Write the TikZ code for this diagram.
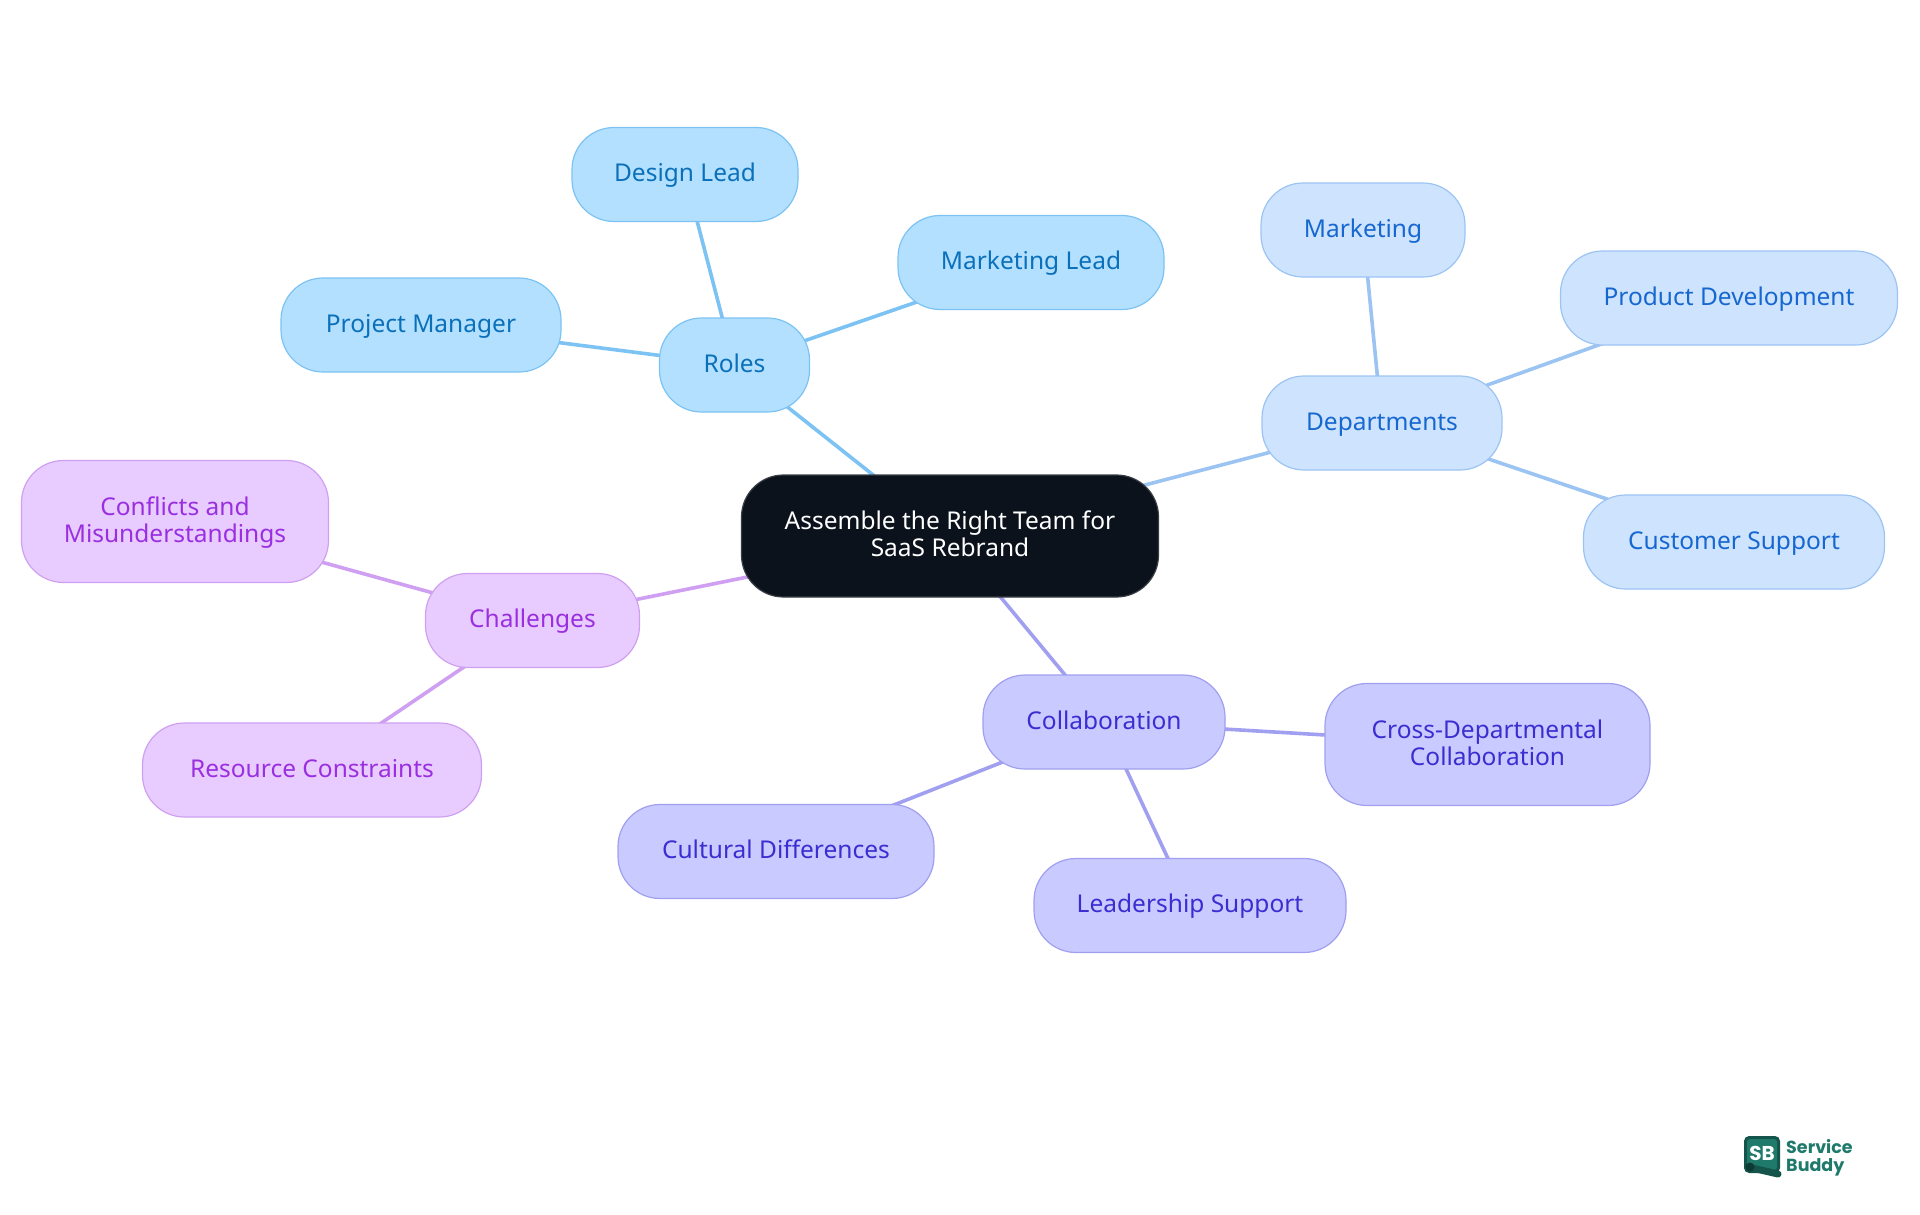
\documentclass[tikz,border=0pt]{standalone}
\usepackage{fontspec}
\usetikzlibrary{backgrounds}
\setmainfont{Noto Sans}
\newfontfamily\logofont{Poppins}
\newcommand{\st}{\rule[-6.5pt]{0pt}{27pt}}
\definecolor{skyF}{HTML}{B3E0FF}\definecolor{skyD}{HTML}{7CC3F3}\definecolor{skyT}{HTML}{0B70BA}
\definecolor{bluF}{HTML}{CEE3FD}\definecolor{bluD}{HTML}{9CC4F3}\definecolor{bluT}{HTML}{1668D0}
\definecolor{indF}{HTML}{C9CAFF}\definecolor{indD}{HTML}{A09FF0}\definecolor{indT}{HTML}{3A2ED0}
\definecolor{purF}{HTML}{E8CBFF}\definecolor{purD}{HTML}{CFA0F2}\definecolor{purT}{HTML}{9A2FE0}
\definecolor{rootF}{HTML}{0B121B}\definecolor{rootD}{HTML}{3A3F46}
\definecolor{logoA}{HTML}{1F7A6B}\definecolor{logoB}{HTML}{14544A}\definecolor{logoC}{HTML}{0F3A33}
\tikzset{
 x=1pt,y=-1pt,
 mm/.style={rectangle,rounded corners=42pt,line width=1.2pt,align=center,inner sep=0pt,
   font=\fontsize{24.5}{27}\selectfont},
 skyN/.style={mm,fill=skyF,draw=skyD,text=skyT},
 bluN/.style={mm,fill=bluF,draw=bluD,text=bluT},
 indN/.style={mm,fill=indF,draw=indD,text=indT},
 purN/.style={mm,fill=purF,draw=purD,text=purT},
 rootN/.style={mm,fill=rootF,draw=rootD,text=white},
 skyL/.style={draw=skyD,line width=3.6pt},
 bluL/.style={draw=bluD,line width=3.6pt},
 indL/.style={draw=indD,line width=3.6pt},
 purL/.style={draw=purD,line width=3.6pt},
 logoT/.style={inner sep=0pt,anchor=base west,text=logoA,font=\logofont\bfseries\fontsize{17.5}{20}\selectfont},
}
\begin{document}
\begin{tikzpicture}
\useasboundingbox (0,0) rectangle (1920,1215);
\node[rootN,minimum width=417pt,minimum height=122pt] (root) at (950,536) {\st Assemble the Right Team for\\\st SaaS Rebrand};
\node[skyN,minimum width=150pt,minimum height=94pt] (roles) at (734.5,365) {\st Roles};
\node[skyN,minimum width=226pt,minimum height=94pt] (design) at (685,174.5) {\st Design Lead};
\node[skyN,minimum width=266pt,minimum height=94pt] (mlead) at (1031,262.5) {\st Marketing Lead};
\node[skyN,minimum width=280pt,minimum height=94pt] (pm) at (421,325) {\st Project Manager};
\node[bluN,minimum width=240pt,minimum height=94pt] (dept) at (1382,423) {\st Departments};
\node[bluN,minimum width=204pt,minimum height=94pt] (mark) at (1363,230) {\st Marketing};
\node[bluN,minimum width=337pt,minimum height=94pt] (prod) at (1729,298) {\st Product Development};
\node[bluN,minimum width=301pt,minimum height=94pt] (cust) at (1734,542) {\st Customer Support};
\node[indN,minimum width=242pt,minimum height=94pt] (coll) at (1104,722) {\st Collaboration};
\node[indN,minimum width=325pt,minimum height=122pt] (cross) at (1487.5,744.5) {\st Cross-Departmental\\\st Collaboration};
\node[indN,minimum width=316pt,minimum height=94pt] (cult) at (776,851.5) {\st Cultural Differences};
\node[indN,minimum width=312pt,minimum height=94pt] (lead) at (1190,905.5) {\st Leadership Support};
\node[purN,minimum width=214pt,minimum height=94pt] (chal) at (532.5,620.5) {\st Challenges};
\node[purN,minimum width=307pt,minimum height=122pt] (conf) at (175,521.5) {\st Conflicts and\\\st Misunderstandings};
\node[purN,minimum width=339pt,minimum height=94pt] (res) at (312,770) {\st Resource Constraints};
\begin{pgfonlayer}{background}
\draw[skyL] (root.center) -- (roles.center);
\draw[skyL] (roles.center) -- (design.center);
\draw[skyL] (roles.center) -- (mlead.center);
\draw[skyL] (roles.center) -- (pm.center);
\draw[bluL] (root.center) -- (dept.center);
\draw[bluL] (dept.center) -- (mark.center);
\draw[bluL] (dept.center) -- (prod.center);
\draw[bluL] (dept.center) -- (cust.center);
\draw[indL] (root.center) -- (coll.center);
\draw[indL] (coll.center) -- (cross.center);
\draw[indL] (coll.center) -- (cult.center);
\draw[indL] (coll.center) -- (lead.center);
\draw[purL] (root.center) -- (chal.center);
\draw[purL] (chal.center) -- (conf.center);
\draw[purL] (chal.center) -- (res.center);
\end{pgfonlayer}
% logo
\fill[logoB,rounded corners=5pt] (1744,1136) rectangle (1780,1173);
\fill[logoA,rounded corners=3pt] (1747,1139) rectangle (1777,1170);
\draw[logoB,line width=7pt,line cap=round] (1752,1168) -- (1778,1174);
\fill[logoC] (1750,1167) circle (4.5pt);
\node[inner sep=0pt,text=white,font=\logofont\bfseries\fontsize{20}{22}\selectfont] (sb) at (1762,1153) {SB};
\node[logoT] (svc) at (1786,1153) {Service};
\node[logoT] (bud) at (1786,1171) {Buddy};
\end{tikzpicture}
\end{document}
